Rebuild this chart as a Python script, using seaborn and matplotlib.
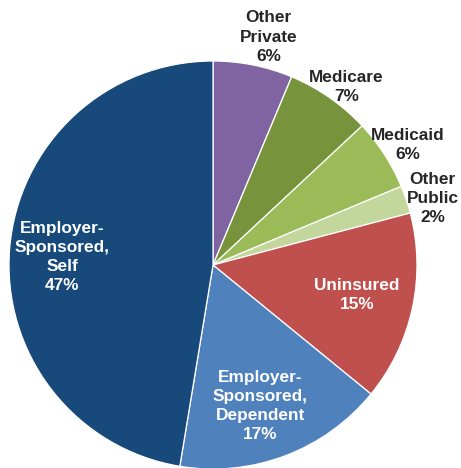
import numpy as np
import matplotlib
matplotlib.use("Agg")
import matplotlib.pyplot as plt
import seaborn as sns

# ---- data (clockwise from 12 o'clock) ----
categories = ["Other\nPrivate", "Medicare", "Medicaid", "Other\nPublic", "Uninsured",
              "Employer-\nSponsored,\nDependent", "Employer-\nSponsored,\nSelf"]
shares = [6.3, 6.75, 5.65, 2.2, 15.0, 16.7, 47.4]
pct_labels = ["6%", "7%", "6%", "2%", "15%", "17%", "47%"]

# ---- styling ----
colors = ["#8064A2", "#77933C", "#9BBB59", "#C3D69B", "#C0504D", "#4F81BD", "#17497A"]
label_radius = [1.15, 1.09, 1.12, 1.125, 0.72, 0.73, 0.74]
label_angle_shift = [2.3, 2.0, 1.2, 1.9, -0.4, 2.3, -1.7]   # degrees, clockwise
text_colors = ["#262626"] * 4 + ["white"] * 3

sns.set_theme(style="white")
plt.rcParams["font.family"] = ["Liberation Sans", "DejaVu Sans"]

fig = plt.figure(figsize=(4.61, 4.68), dpi=100)
ax = fig.add_axes([9 / 461, -1 / 468, 408 / 461, 408 / 468])

wedges, _ = ax.pie(shares, colors=colors, startangle=90, counterclock=False,
                   wedgeprops=dict(edgecolor="white", linewidth=0.9))
ax.set_xlim(-1, 1)
ax.set_ylim(-1, 1)
ax.set_aspect("equal")
ax.axis("off")

total = sum(shares)
cum = np.cumsum([0] + shares[:-1])
for i, (cat, val, pct) in enumerate(zip(categories, shares, pct_labels)):
    mid = (cum[i] + val / 2) / total * 360 + label_angle_shift[i]  # clockwise from top
    theta = np.deg2rad(90 - mid)
    r = label_radius[i]
    ax.text(r * np.cos(theta), r * np.sin(theta), f"{cat}\n{pct}",
            ha="center", va="center", fontsize=12.4, fontweight="bold",
            color=text_colors[i], linespacing=1.34, clip_on=False)

fig.savefig("out.png", dpi=100, facecolor="white")
